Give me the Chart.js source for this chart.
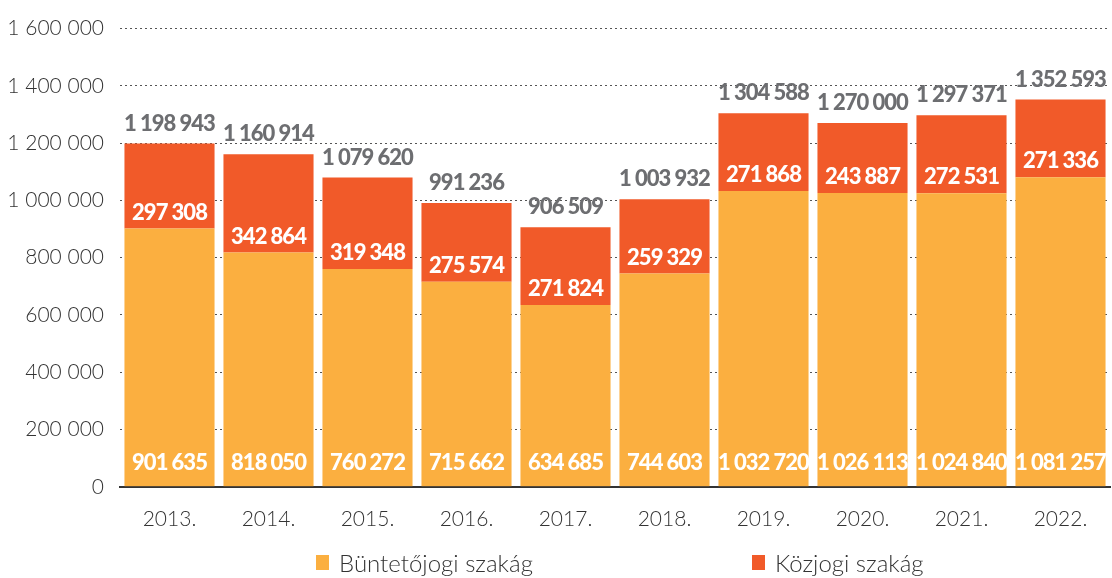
<!DOCTYPE html>
<html>
<head>
<meta charset="utf-8">
<script src="https://cdn.jsdelivr.net/npm/chart.js@4/dist/chart.umd.min.js"></script>
<style>
  html, body { margin: 0; padding: 0; background: #fff; }
  #wrap { position: relative; width: 1112px; height: 578px; }
  #legend { position: absolute; left: 0; top: 548px; width: 1112px; height: 28px;
            font-family: Lato, 'Open Sans', sans-serif; font-weight: 300; font-size: 24px; color: #333; }
  .item { position: absolute; top: 0; display: flex; align-items: center; height: 28px; }
  .box { width: 13px; height: 15px; margin-right: 10px; }
</style>
</head>
<body>
<div id="wrap">
  <canvas id="chart" width="1112" height="578"></canvas>
  <div id="legend"></div>
</div>
<script>
// ── Data ────────────────────────────────────────────
const years     = ['2013.', '2014.', '2015.', '2016.', '2017.', '2018.', '2019.', '2020.', '2021.', '2022.'];
const buntetoji = [901635, 818050, 760272, 715662, 634685, 744603, 1032720, 1026113, 1024840, 1081257];
const kozjogi   = [297308, 342864, 319348, 275574, 271824, 259329, 271868, 243887, 272531, 271336];
const totals    = [1198943, 1160914, 1079620, 991236, 906509, 1003932, 1304588, 1270000, 1297371, 1352593];
const seriesNames = ['Büntetőjogi szakág', 'Közjogi szakág'];

const ORANGE = '#FBAF40';
const RED    = '#F15A29';

const fmt = (v) => String(v).replace(/\B(?=(\d{3})+(?!\d))/g, ' ');

// value labels drawn on top of the bars
const valueLabels = {
  id: 'valueLabels',
  afterDatasetsDraw(chart) {
    const ctx = chart.ctx;
    const m0 = chart.getDatasetMeta(0);
    const m1 = chart.getDatasetMeta(1);
    ctx.save();
    ctx.font = '900 22px Lato, "Open Sans", sans-serif';
    ctx.letterSpacing = '-1px';
    ctx.textAlign = 'center';
    ctx.textBaseline = 'middle';
    m0.data.forEach((bar, i) => {
      ctx.fillStyle = '#fff';
      ctx.fillText(fmt(buntetoji[i]), bar.x, bar.base - 23);
      const top = m1.data[i];
      ctx.fillText(fmt(kozjogi[i]), top.x, top.base - 16);
      ctx.fillStyle = '#6D6E71';
      ctx.fillText(fmt(totals[i]), top.x, top.y - 20);
    });
    ctx.restore();
  }
};

new Chart(document.getElementById('chart'), {
  type: 'bar',
  data: {
    labels: years,
    datasets: [
      { label: seriesNames[0], data: buntetoji, backgroundColor: ORANGE },
      { label: seriesNames[1], data: kozjogi, backgroundColor: RED },
    ]
  },
  options: {
    responsive: false,
    animation: false,
    categoryPercentage: 1,
    barPercentage: 0.91,
    layout: { padding: { top: 0, right: 2, bottom: 34, left: 0 } },
    plugins: {
      legend: { display: false },
      tooltip: { enabled: false },
    },
    scales: {
      x: {
        stacked: true,
        grid: { display: false },
        border: { display: true, color: '#333', width: 2 },
        ticks: { color: '#333', padding: 12, font: { family: 'Lato', weight: 300, size: 21 } },
      },
      y: {
        stacked: true,
        min: 0,
        max: 1600000,
        afterFit: (s) => { s.width = 120; },
        grid: { color: '#555', lineWidth: 1, drawTicks: false },
        border: { display: false, dash: [2, 3] },
        ticks: {
          stepSize: 200000,
          padding: 16,
          color: '#333',
          font: { family: 'Lato', weight: 300, size: 21 },
          callback: (v) => fmt(v),
        },
      }
    }
  },
  plugins: [valueLabels]
});

// legend
const legend = document.getElementById('legend');
[[seriesNames[0], ORANGE, 316], [seriesNames[1], RED, 752]].forEach(([name, color, x]) => {
  const it = document.createElement('div');
  it.className = 'item';
  it.style.left = x + 'px';
  it.innerHTML = `<span class="box" style="background:${color}"></span><span>${name}</span>`;
  legend.appendChild(it);
});
</script>
</body>
</html>
